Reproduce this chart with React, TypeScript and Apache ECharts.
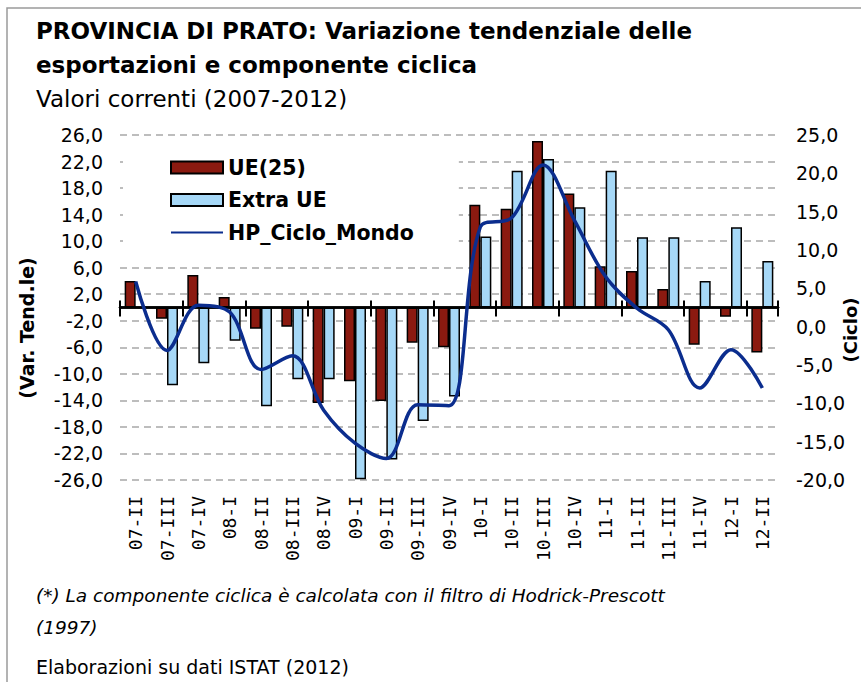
import React, { useEffect, useRef } from 'react';
import * as echarts from 'echarts';

const categories = ['07-II', '07-III', '07-IV', '08-I', '08-II', '08-III', '08-IV', '09-I', '09-II', '09-III', '09-IV', '10-I', '10-II', '10-III', '10-IV', '11-I', '11-II', '11-III', '11-IV', '12-I', '12-II'];
const ue25 = [4.0, -1.7, 4.9, 1.6, -3.2, -2.9, -14.4, -11.1, -14.1, -5.3, -6.0, 15.5, 14.9, 25.1, 17.2, 6.2, 5.5, 2.8, -5.6, -1.4, -6.8];
const extraUe = [null, -11.7, -8.4, -5.0, -14.9, -10.8, -10.8, -25.9, -22.9, -17.1, -13.4, 10.7, 20.6, 22.4, 15.1, 20.6, 10.6, 10.6, 4.0, 12.1, 7.0];
const hpCicloMondo = [5.9, -3.1, 2.8, 1.9, -5.6, -3.8, -10.9, -15.2, -17.2, -10.2, -10.3, 13.0, 14.2, 21.1, 13.9, 6.5, 2.4, -0.4, -8.0, -3.0, -8.0];

const seriesNames = ['UE(25)', 'Extra UE', 'HP_Ciclo_Mondo'];
const titleLines = ['PROVINCIA DI PRATO: Variazione tendenziale delle', 'esportazioni e componente ciclica'];
const subtitle = 'Valori correnti (2007-2012)';
const noteLines = ['(*) La componente ciclica è calcolata con il filtro di Hodrick-Prescott', '(1997)'];
const source = 'Elaborazioni su dati ISTAT (2012)';
const leftAxisName = '(Var. Tend.le)';
const rightAxisName = '(Ciclo)';

const FONT = 'DejaVu Sans';

export default function App() {
  const ref = useRef<HTMLDivElement>(null);
  useEffect(() => {
    const chart = echarts.init(ref.current as HTMLDivElement, null, { renderer: 'svg' });
    const fmt = (v: number) => v.toFixed(1).replace('.', ',');
    const axisLineStyle = { color: '#000', width: 2.5 };
    chart.setOption({
      animation: false,
      backgroundColor: '#fff',
      textStyle: { fontFamily: FONT },
      grid: { left: 120, right: 83, top: 135, bottom: 202, containLabel: false },
      legend: {
        orient: 'vertical',
        left: 123,
        top: 145,
        padding: [12, 45, 15, 47],
        backgroundColor: '#fff',
        itemWidth: 52,
        itemHeight: 12,
        itemGap: 11.5,
        itemTextGap: 6,
        textStyle: { fontFamily: FONT, fontWeight: 'bold', fontSize: 20.5, color: '#000', lineHeight: 20 },
        data: [
          { name: seriesNames[0], icon: 'rect' },
          { name: seriesNames[1], icon: 'rect' },
          { name: seriesNames[2], itemStyle: { opacity: 0 } },
        ],
      },
      xAxis: [
        {
          type: 'category', data: categories, position: 'bottom', z: 3,
          axisLine: { show: true, onZero: true, onZeroAxisIndex: 0, lineStyle: axisLineStyle },
          axisTick: { show: true, length: 9, lineStyle: { color: '#000', width: 2 } },
          axisLabel: { show: false }, splitLine: { show: false },
        },
        {
          type: 'category', data: categories, position: 'top', z: 3,
          axisLine: { show: true, onZero: true, onZeroAxisIndex: 0, lineStyle: axisLineStyle },
          axisTick: { show: true, length: 7, lineStyle: { color: '#000', width: 2 } },
          axisLabel: { show: false }, splitLine: { show: false },
        },
        {
          type: 'category', data: categories, position: 'bottom',
          axisLine: { show: false, onZero: false }, axisTick: { show: false },
          axisLabel: { show: true, interval: 0, rotate: 90, margin: 16, fontFamily: 'DejaVu Sans Mono', fontSize: 18, color: '#000' },
          splitLine: { show: false },
        },
      ],
      yAxis: [
        {
          type: 'value', min: -26, max: 26, interval: 4, position: 'left',
          axisLine: { show: false }, axisTick: { show: false },
          axisLabel: { formatter: fmt, fontSize: 19, color: '#000', margin: 17, fontFamily: FONT },
          splitLine: { show: true, lineStyle: { color: '#a8a8a8', width: 1.5, type: [7, 5] } },
        },
        {
          type: 'value', min: -20, max: 25, interval: 5, position: 'right',
          axisLine: { show: false }, axisTick: { show: false },
          axisLabel: { formatter: fmt, fontSize: 19, color: '#000', margin: 18, fontFamily: FONT },
          splitLine: { show: false },
        },
      ],
      series: [
        {
          name: seriesNames[0], type: 'bar', xAxisIndex: 0, yAxisIndex: 0, data: ue25,
          barWidth: 11, barGap: '0%',
          itemStyle: { color: '#8B1A10', borderColor: '#000', borderWidth: 1.5 },
        },
        {
          name: seriesNames[1], type: 'bar', xAxisIndex: 0, yAxisIndex: 0, data: extraUe,
          barWidth: 11, barGap: '0%',
          itemStyle: { color: '#A6D8F7', borderColor: '#000', borderWidth: 1.5 },
        },
        {
          name: seriesNames[2], type: 'line', xAxisIndex: 0, yAxisIndex: 1, data: hpCicloMondo,
          smooth: 0.35, symbol: 'none', z: 5,
          lineStyle: { color: '#0B2D8E', width: 3.5 }, itemStyle: { color: '#0B2D8E' },
        },
      ],
      graphic: [
        { type: 'rect', silent: true, shape: { x: 7, y: 8, width: 900, height: 700 }, style: { fill: 'none', stroke: '#9a9a9a', lineWidth: 1.5 } },
        { type: 'text', x: 36, y: 31, style: { text: titleLines[0], fontFamily: FONT, fontWeight: 'bold', fontSize: 23, fill: '#000', align: 'left', verticalAlign: 'middle' } },
        { type: 'text', x: 36, y: 65, style: { text: titleLines[1], fontFamily: FONT, fontWeight: 'bold', fontSize: 23, fill: '#000', align: 'left', verticalAlign: 'middle' } },
        { type: 'text', x: 36, y: 99, style: { text: subtitle, fontFamily: FONT, fontSize: 23, fill: '#000', align: 'left', verticalAlign: 'middle' } },
        { type: 'text', x: 27, y: 328, rotation: Math.PI / 2, style: { text: leftAxisName, fontFamily: FONT, fontWeight: 'bold', fontSize: 19, fill: '#000', align: 'center', verticalAlign: 'middle' } },
        { type: 'text', x: 850, y: 330, rotation: Math.PI / 2, style: { text: rightAxisName, fontFamily: FONT, fontWeight: 'bold', fontSize: 18, fill: '#000', align: 'center', verticalAlign: 'middle' } },
        { type: 'text', x: 36, y: 595, style: { text: noteLines[0], fontFamily: FONT, fontStyle: 'italic', fontSize: 18.5, fill: '#000', align: 'left', verticalAlign: 'middle' } },
        { type: 'text', x: 36, y: 627, style: { text: noteLines[1], fontFamily: FONT, fontStyle: 'italic', fontSize: 18.5, fill: '#000', align: 'left', verticalAlign: 'middle' } },
        { type: 'text', x: 36, y: 667, style: { text: source, fontFamily: FONT, fontSize: 19, fill: '#000', align: 'left', verticalAlign: 'middle' } },
      ],
    });
    return () => chart.dispose();
  }, []);
  return <div ref={ref} style={{ position: 'fixed', left: 0, top: 0, width: 861, height: 682, background: '#fff' }} />;
}
